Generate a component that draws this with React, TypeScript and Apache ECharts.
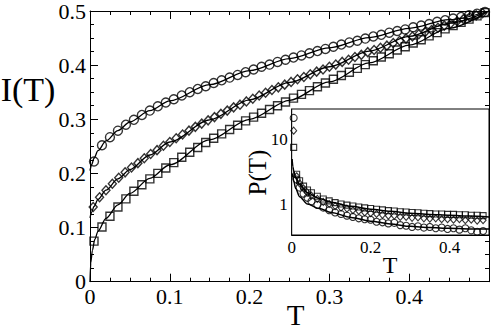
import React, { useEffect, useRef } from "react";
import * as echarts from "echarts";

const FONT = "Liberation Serif";
const FONT_CSS = "'Liberation Serif', 'Times New Roman', serif";

// ---- main plot: I(T) ----
const T_CIRC = [0.005,0.015,0.025,0.035,0.045,0.055,0.065,0.075,0.085,0.095,0.105,0.115,0.125,0.135,0.145,0.155,0.165,0.175,0.185,0.195,0.205,0.215,0.225,0.235,0.245,0.255,0.265,0.275,0.285,0.295,0.305,0.315,0.325,0.335,0.345,0.355,0.365,0.375,0.385,0.395,0.405,0.415,0.425,0.435,0.445,0.455,0.465,0.475,0.485,0.495];
const I_CIRC = [0.222,0.252,0.267,0.279,0.290,0.299,0.308,0.316,0.324,0.331,0.337,0.344,0.350,0.356,0.361,0.367,0.372,0.377,0.382,0.387,0.392,0.397,0.401,0.406,0.410,0.414,0.418,0.422,0.426,0.430,0.434,0.438,0.442,0.445,0.449,0.453,0.456,0.460,0.463,0.466,0.470,0.473,0.476,0.480,0.483,0.486,0.489,0.492,0.495,0.498];

const T_SQ = T_CIRC;
const I_SQ = [0.075,0.101,0.121,0.138,0.153,0.167,0.179,0.190,0.200,0.210,0.220,0.230,0.239,0.248,0.257,0.265,0.273,0.281,0.289,0.297,0.304,0.311,0.318,0.325,0.332,0.339,0.346,0.353,0.360,0.367,0.374,0.381,0.387,0.394,0.401,0.408,0.415,0.421,0.428,0.434,0.441,0.447,0.454,0.460,0.467,0.473,0.479,0.485,0.491,0.497];

const T_DIA = [0.004,0.012,0.020,0.028,0.036,0.044,0.052,0.060,0.068,0.076,0.084,0.092,0.100,0.108,0.116,0.124,0.132,0.140,0.148,0.156,0.164,0.172,0.180,0.188,0.196,0.204,0.212,0.220,0.228,0.236,0.244,0.252,0.260,0.268,0.276,0.284,0.292,0.300,0.308,0.316,0.324,0.332,0.340,0.348,0.356,0.364,0.372,0.380,0.388,0.396,0.404,0.412,0.420,0.428,0.436,0.444,0.452,0.460,0.468,0.476,0.484,0.492];
const I_DIA = [0.138,0.156,0.169,0.181,0.192,0.202,0.211,0.219,0.228,0.236,0.243,0.251,0.258,0.265,0.272,0.279,0.286,0.292,0.298,0.304,0.310,0.316,0.322,0.327,0.333,0.338,0.344,0.349,0.354,0.359,0.364,0.369,0.374,0.378,0.383,0.388,0.392,0.397,0.401,0.406,0.410,0.415,0.419,0.424,0.428,0.432,0.436,0.441,0.445,0.449,0.453,0.457,0.461,0.465,0.469,0.473,0.477,0.481,0.485,0.489,0.492,0.496];

const FIT_T_CD = [0,0.002,0.005,0.01,0.02,0.035,0.05,0.075,0.1,0.15,0.2,0.25,0.3,0.35,0.4,0.45,0.5];
const FIT_CIRC = [0.205,0.216,0.228,0.242,0.26,0.279,0.295,0.316,0.334,0.364,0.39,0.412,0.432,0.451,0.468,0.484,0.5];
const FIT_DIA = [0.118,0.128,0.139,0.152,0.169,0.19,0.207,0.234,0.258,0.299,0.336,0.368,0.397,0.426,0.453,0.477,0.5];
const FIT_T_SQ = [0,0.001,0.003,0.006,0.01,0.02,0.035,0.05,0.075,0.1,0.15,0.2,0.25,0.3,0.35,0.4,0.45,0.5];
const FIT_SQ = [0.0,0.035,0.058,0.078,0.093,0.117,0.142,0.163,0.191,0.216,0.262,0.300,0.335,0.369,0.404,0.437,0.468,0.5];

// ---- inset: P(T) ----
const T_IN = [0.005,0.0125,0.02,0.03,0.04,0.05,0.065,0.08,0.095,0.11,0.125,0.14,0.155,0.17,0.185,0.2,0.215,0.23,0.245,0.26,0.275,0.29,0.305,0.32,0.335,0.35,0.365,0.38,0.395,0.41,0.425,0.44,0.455,0.47,0.485];
const P_SQ = [7.6,2.9,2.3,1.9,1.65,1.5,1.32,1.2,1.12,1.05,1.0,0.96,0.93,0.9,0.87,0.85,0.83,0.81,0.79,0.78,0.76,0.75,0.74,0.73,0.72,0.71,0.70,0.70,0.69,0.69,0.68,0.68,0.67,0.67,0.66];
const P_DIA = [13.8,2.7,2.1,1.75,1.5,1.35,1.2,1.08,1.0,0.93,0.88,0.85,0.8,0.78,0.74,0.72,0.70,0.68,0.66,0.66,0.63,0.63,0.61,0.62,0.60,0.59,0.60,0.58,0.58,0.57,0.58,0.56,0.57,0.55,0.56];
const P_CIRC = [21.8,2.4,1.8,1.45,1.25,1.1,0.97,0.88,0.8,0.74,0.7,0.66,0.63,0.6,0.58,0.57,0.53,0.52,0.5,0.51,0.47,0.46,0.44,0.45,0.43,0.44,0.42,0.43,0.41,0.42,0.40,0.42,0.39,0.37,0.38];
const FIT_T_IN = [0.001,0.003,0.005,0.01,0.02,0.04,0.07,0.1,0.15,0.2,0.25,0.3,0.35,0.4,0.45,0.5];
const FIT_IN_UP = [5.0,3.8,3.3,2.6,2.0,1.5,1.22,1.07,0.92,0.83,0.77,0.72,0.69,0.67,0.65,0.63];
const FIT_IN_LO = [3.0,2.6,2.3,1.75,1.3,1.0,0.85,0.74,0.62,0.54,0.49,0.45,0.43,0.42,0.41,0.41];

const MAIN_TICKS = [0, 0.1, 0.2, 0.3, 0.4, 0.5];
const LOG_MINOR = [0.4,0.5,0.6,0.7,0.8,0.9,2,3,4,5,6,7,8,9,20,30];

const zip = (xs: number[], ys: number[]) => xs.map((x, i) => [x, ys[i]]);

const BLACK = "#000";
const line = { show: true, onZero: false, lineStyle: { color: BLACK, width: 1 } };

const richLabel = (size: number) => ({
  s: { fontFamily: FONT_CSS, fontSize: size, color: BLACK, fontWeight: "normal" },
});
const wrap = (t: string) => (t === "" ? "" : `{s|${t}}`);

function mainAxis(position: string, showLabel: boolean, gridIndex = 0) {
  return {
    type: "value",
    gridIndex,
    position,
    min: MAIN_TICKS[0],
    max: MAIN_TICKS[MAIN_TICKS.length - 1],
    interval: 0.1,
    axisLine: line,
    axisTick: { show: true, inside: true, length: 8, lineStyle: { color: BLACK, width: 1 } },
    minorTick: { show: true, splitNumber: 4, length: 4, lineStyle: { color: BLACK, width: 1 } },
    splitLine: { show: false },
    axisLabel: {
      show: showLabel,
      fontFamily: FONT_CSS,
      fontSize: 22,
      color: BLACK,
      margin: 4,
      rich: richLabel(22),
      formatter: (v: number) => wrap(v === 0 ? "0" : String(Math.round(v * 10) / 10)),
    },
  };
}

const fitLine = (data: number[][], xi: number, yi: number, w = 1.3) => ({
  type: "line",
  xAxisIndex: xi,
  yAxisIndex: yi,
  data,
  showSymbol: false,
  symbol: "none",
  smooth: 0.3,
  smoothMonotone: "x",
  lineStyle: { color: BLACK, width: w },
  silent: true,
  z: 1,
});
const scatter = (data: number[][], xi: number, yi: number, symbol: string, size: any, bw = 1.4) => ({
  type: "scatter",
  xAxisIndex: xi,
  yAxisIndex: yi,
  data,
  symbol,
  symbolSize: size,
  itemStyle: { color: "transparent", borderColor: BLACK, borderWidth: bw },
  silent: true,
  z: 3,
});

export default function App() {
  const ref = useRef<HTMLDivElement>(null);
  useEffect(() => {
    const chart = echarts.init(ref.current!, null, { renderer: "svg" });
    const xMainBottom = mainAxis("bottom", true);
    (xMainBottom.axisLabel as any).showMaxLabel = false;
    const option: any = {
      animation: false,
      backgroundColor: "#fff",
      textStyle: { fontFamily: FONT_CSS },
      grid: [
        { left: 90, top: 9, width: 399, height: 272.7, show: false },
        { left: 291.7, top: 109, width: 197.3, height: 126, show: true, backgroundColor: "#fff", borderColor: BLACK, borderWidth: 1, z: 1 },
      ],
      xAxis: [
        xMainBottom,
        mainAxis("top", false),
        {
          type: "value",
          gridIndex: 1,
          position: "bottom",
          min: 0,
          max: 0.5,
          interval: 0.1,
          axisLine: line,
          axisTick: { show: true, inside: true, length: 5, lineStyle: { color: BLACK } },
          minorTick: { show: true, splitNumber: 2, length: 5, lineStyle: { color: BLACK } },
          splitLine: { show: false },
          axisLabel: {
            fontFamily: FONT_CSS,
            fontSize: 17,
            color: BLACK,
            margin: 4,
            showMaxLabel: false,
            rich: richLabel(17),
            formatter: (v: number) => {
              const k = Math.round(v * 10);
              if (k % 2 !== 0 || k > 4) return "";
              return wrap(k === 0 ? "0" : (k / 10).toFixed(1));
            },
          },
        },
      ],
      yAxis: [
        mainAxis("left", true),
        mainAxis("right", false),
        {
          type: "log",
          logBase: 10,
          gridIndex: 1,
          position: "left",
          min: 0.33,
          max: 30,
          axisLine: line,
          axisTick: { show: true, inside: true, length: 6, lineStyle: { color: BLACK } },
          splitLine: { show: false },
          axisLabel: {
            fontFamily: FONT_CSS,
            fontSize: 17,
            color: BLACK,
            margin: 4,
            showMinLabel: false,
            showMaxLabel: false,
            rich: richLabel(17),
            formatter: (v: number) =>
              Math.abs(v - 1) < 1e-6 ? wrap("1") : Math.abs(v - 10) < 1e-4 ? wrap("10") : "",
          },
        },
        {
          type: "log",
          logBase: 10,
          gridIndex: 1,
          position: "left",
          min: 0.33,
          max: 30,
          axisLine: { show: false, onZero: false },
          axisLabel: { show: false },
          splitLine: { show: false },
          axisTick: { show: true, inside: true, length: 3, customValues: LOG_MINOR, lineStyle: { color: BLACK } },
        },
      ],
      graphic: [
        { type: "text", x: 28, y: 89, style: { text: "I(T)", font: `34px ${FONT_CSS}`, fill: BLACK, textAlign: "center", textVerticalAlign: "middle" } },
        { type: "text", x: 295.5, y: 315, style: { text: "T", font: `29px ${FONT_CSS}`, fill: BLACK, textAlign: "center", textVerticalAlign: "middle" } },
        { type: "text", x: 257.5, y: 172.5, rotation: Math.PI / 2, style: { text: "P(T)", font: `25px ${FONT_CSS}`, fill: BLACK, textAlign: "center", textVerticalAlign: "middle" } },
        { type: "text", x: 390, y: 265, style: { text: "T", font: `24px ${FONT_CSS}`, fill: BLACK, textAlign: "center", textVerticalAlign: "middle" } },
      ],
      series: [
        fitLine(zip(FIT_T_CD, FIT_CIRC), 0, 0),
        fitLine(zip(FIT_T_CD, FIT_DIA), 0, 0),
        fitLine(zip(FIT_T_SQ, FIT_SQ), 0, 0),
        scatter(zip(T_CIRC, I_CIRC), 0, 0, "circle", 9),
        scatter(zip(T_DIA, I_DIA), 0, 0, "diamond", [8, 9]),
        scatter(zip(T_SQ, I_SQ), 0, 0, "rect", 8),
        fitLine(zip(FIT_T_IN, FIT_IN_UP), 2, 2, 1.5),
        fitLine(zip(FIT_T_IN, FIT_IN_LO), 2, 2, 1.5),
        scatter(zip(T_IN, P_CIRC), 2, 2, "circle", 7, 1.1),
        scatter(zip(T_IN, P_DIA), 2, 2, "diamond", [6, 7], 1.1),
        scatter(zip(T_IN, P_SQ), 2, 2, "rect", 6, 1.1),
      ],
    };
    chart.setOption(option);
    return () => chart.dispose();
  }, []);
  return <div ref={ref} style={{ position: "absolute", left: 0, top: 0, width: 491, height: 331 }} />;
}
